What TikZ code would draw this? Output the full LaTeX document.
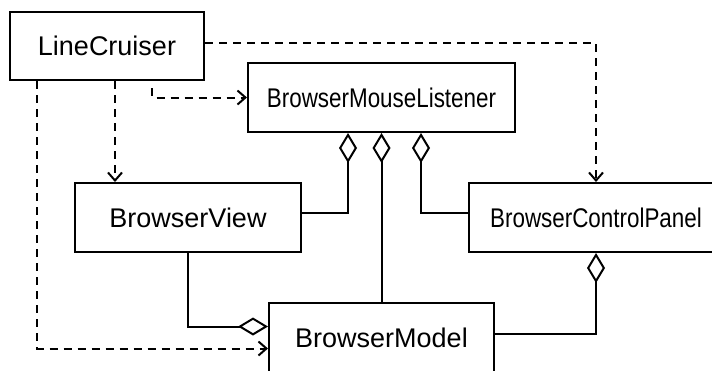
\documentclass[tikz,border=0pt]{standalone}
\usepackage{fontspec}
\setmainfont{Liberation Sans}
\usepackage{graphicx}
\usetikzlibrary{arrows.meta, positioning}

\newcommand{\slimname}[1]{\scalebox{0.83}[1]{#1}}

\begin{document}
\begin{tikzpicture}[x=1pt, y=-1pt, line width=2pt,
    class/.style={draw, rectangle, inner sep=0pt, minimum height=69pt, font=\fontsize{27}{31}\selectfont},
    dep/.style={dash pattern=on 8pt off 6pt, -{Straight Barb[length=8pt,width=14pt]}},
    agg/.style={{Diamond[open,length=30pt,width=18pt]}-}]
  \path[use as bounding box, clip] (0,0) rectangle (712,370);

  % classes
  \node[class, minimum width=194pt, minimum height=68pt] (LC) at (107,46) {LineCruiser};
  \node[class, minimum width=267pt] (BML) at (381.5,97.5) {\slimname{BrowserMouseListener}};
  \node[class, minimum width=226pt] (BV) at (188,217.5) {BrowserView};
  \node[class, minimum width=254pt] (BCP) at (596,217.5) {\slimname{BrowserControlPanel}};
  \node[class, minimum width=225pt] (BM) at (381.5,337.5) {BrowserModel};

  % dependencies
  \draw[dep] ([yshift=3pt]LC.east) -| (BCP.north);
  \draw[dep] ([xshift=45pt,yshift=-7pt]LC.south) |- (BML.west);
  \draw[dep] ([xshift=8pt]LC.south) -- ([xshift=8pt]LC.south |- BV.north);
  \draw[dep] ([xshift=-70pt]LC.south) |- ([yshift=-11pt]BM.west);

  % aggregations
  \draw[agg] ([xshift=-33.5pt]BML.south) |- ([yshift=5pt]BV.east);
  \draw[agg] (BML.south) -- (BM.north);
  \draw[agg] ([xshift=39.5pt]BML.south) |- ([yshift=5pt]BCP.west);
  \draw[agg] ([yshift=11pt]BM.west) -| (BV.south);
  \draw[agg] (BCP.south) |- ([yshift=3.5pt]BM.east);
\end{tikzpicture}
\end{document}
